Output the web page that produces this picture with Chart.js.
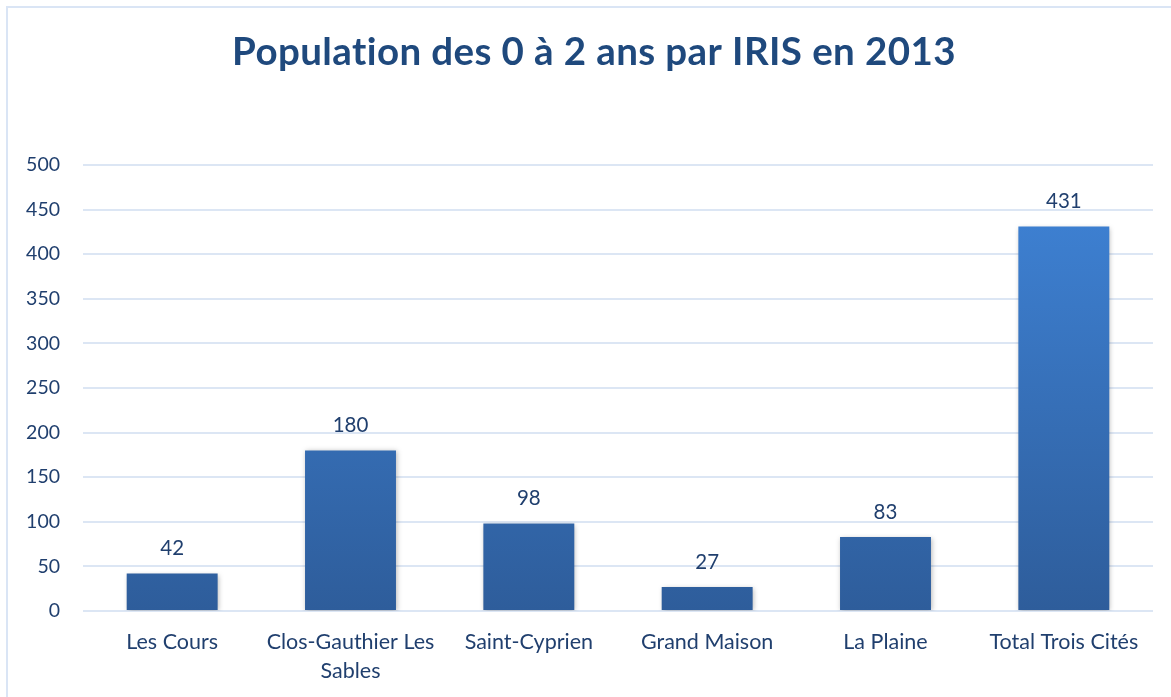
<!DOCTYPE html>
<html>
<head>
<meta charset="utf-8">
<script src="https://cdn.jsdelivr.net/npm/chart.js@4/dist/chart.umd.min.js"></script>
<style>
  html,body{margin:0;padding:0;background:#fff;overflow:hidden;}
  #wrap{position:relative;width:1171px;height:697px;}
  #frame{position:absolute;left:6px;top:6px;width:1200px;height:720px;border:2px solid #DAE5F5;box-sizing:border-box;pointer-events:none;}
  canvas{position:absolute;left:0;top:0;}
</style>
</head>
<body>
<div id="wrap">
  <canvas id="c" width="1171" height="697"></canvas>
  <div id="frame"></div>
</div>
<script>
const titleText = 'Population des 0 à 2 ans par IRIS en 2013';
const categories = ['Les Cours', ['Clos-Gauthier Les', 'Sables'], 'Saint-Cyprien', 'Grand Maison', 'La Plaine', 'Total Trois Cités'];
const values = [42, 180, 98, 27, 83, 431];
const yTicks = [0, 50, 100, 150, 200, 250, 300, 350, 400, 450, 500];

const FONT = 'Lato, "Open Sans", sans-serif';
const TEXT = '#203F6E';

const gradientPlugin = {
  id: 'barGradient',
  beforeDatasetDraw(chart, args) {
    const ctx = chart.ctx;
    const meta = args.meta;
    meta.data.forEach(el => {
      const g = ctx.createLinearGradient(0, el.y, 0, el.base);
      g.addColorStop(0, '#3D7FD0');
      g.addColorStop(1, '#2E5D9B');
      el.options.backgroundColor = g;
    });
    ctx.save();
    ctx.shadowColor = 'rgba(0,0,0,0.28)';
    ctx.shadowBlur = 5;
    ctx.shadowOffsetX = 1;
    ctx.shadowOffsetY = 1;
  },
  afterDatasetDraw(chart) {
    chart.ctx.restore();
  }
};

const labelPlugin = {
  id: 'valueLabels',
  afterDatasetsDraw(chart) {
    const ctx = chart.ctx;
    const meta = chart.getDatasetMeta(0);
    ctx.save();
    ctx.font = '20.5px ' + FONT;
    ctx.fillStyle = TEXT;
    ctx.textAlign = 'center';
    ctx.textBaseline = 'middle';
    meta.data.forEach((el, i) => {
      ctx.fillText(String(values[i]), el.x, el.y - 25);
    });
    ctx.restore();
  }
};

const titlePlugin = {
  id: 'customTitle',
  afterDraw(chart) {
    const ctx = chart.ctx;
    ctx.save();
    ctx.font = 'bold 38.5px ' + FONT;
    if ('letterSpacing' in ctx) ctx.letterSpacing = '0.4px';
    ctx.fillStyle = '#1F497D';
    ctx.textAlign = 'center';
    ctx.textBaseline = 'middle';
    ctx.fillText(titleText, 594, 53);
    ctx.restore();
  }
};

new Chart(document.getElementById('c'), {
  type: 'bar',
  data: {
    labels: categories,
    datasets: [{
      data: values,
      backgroundColor: '#3570B8',
      barPercentage: 0.51,
      categoryPercentage: 1.0,
      borderWidth: 0
    }]
  },
  options: {
    responsive: false,
    animation: false,
    layout: { padding: { top: 165, right: 18, bottom: 0, left: 0 } },
    plugins: { legend: { display: false }, title: { display: false }, tooltip: { enabled: false } },
    scales: {
      x: {
        grid: { display: false, drawTicks: false },
        border: { display: false },
        ticks: { color: TEXT, font: { family: FONT, size: 21.5, lineHeight: 1.35 }, padding: 17, maxRotation: 0, autoSkip: false },
        afterFit(scale) { scale.height = 86; }
      },
      y: {
        min: 0, max: 500,
        afterBuildTicks(scale) { scale.ticks = yTicks.map(v => ({ value: v })); },
        grid: { color: '#DCE6F4', lineWidth: 2, drawTicks: false },
        border: { display: false },
        ticks: { color: TEXT, font: { family: FONT, size: 19.5 }, padding: 23 },
        afterFit(scale) { scale.width = 83; }
      }
    }
  },
  plugins: [gradientPlugin, labelPlugin, titlePlugin]
});
</script>
</body>
</html>
